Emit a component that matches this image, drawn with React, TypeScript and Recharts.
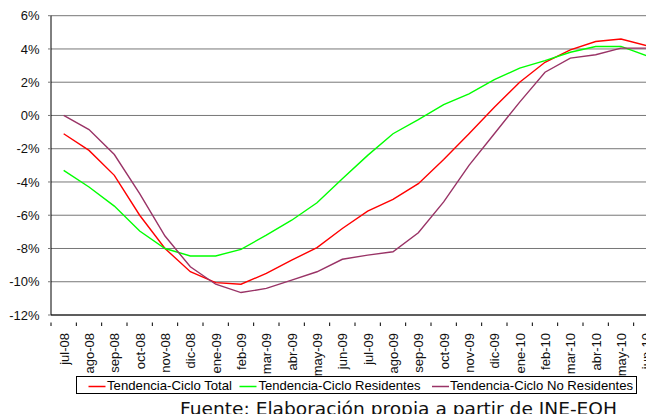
import { LineChart, Line, XAxis, YAxis, CartesianGrid } from "recharts";

const months = [
  "jul-08", "ago-08", "sep-08", "oct-08", "nov-08", "dic-08",
  "ene-09", "feb-09", "mar-09", "abr-09", "may-09", "jun-09",
  "jul-09", "ago-09", "sep-09", "oct-09", "nov-09", "dic-09",
  "ene-10", "feb-10", "mar-10", "abr-10", "may-10", "jun-10",
];

const total = [
  -1.1, -2.1, -3.6, -6.0, -8.0, -9.4, -10.05, -10.15, -9.5, -8.7, -7.95, -6.8,
  -5.75, -5.05, -4.1, -2.65, -1.1, 0.5, 2.0, 3.2, 3.95, 4.45, 4.6, 4.2,
];

const residentes = [
  -3.3, -4.3, -5.45, -6.95, -8.0, -8.45, -8.45, -8.05, -7.2, -6.3, -5.25, -3.8,
  -2.4, -1.1, -0.25, 0.65, 1.3, 2.15, 2.85, 3.3, 3.8, 4.15, 4.15, 3.6,
];

const noResidentes = [
  0, -0.85, -2.35, -4.7, -7.25, -9.1, -10.15, -10.65, -10.4, -9.9, -9.4, -8.65,
  -8.4, -8.2, -7.05, -5.2, -3.0, -1.1, 0.8, 2.6, 3.45, 3.65, 4.05, 4.05,
];

const yTicks = [-12, -10, -8, -6, -4, -2, 0, 2, 4, 6];

const series = [
  { key: "total", name: "Tendencia-Ciclo Total", color: "#ff0000" },
  { key: "residentes", name: "Tendencia-Ciclo Residentes", color: "#00ff00" },
  { key: "noResidentes", name: "Tendencia-Ciclo No Residentes", color: "#993366" },
];

const data = months.map((m, i) => ({
  month: m,
  total: total[i],
  residentes: residentes[i],
  noResidentes: noResidentes[i],
}));

const CHART_W = 700;
const CHART_H = 414;
const Y_AXIS_W = 51;
const MARGIN = { top: 15.7, right: 41, bottom: 0, left: 0 };
const BAND = (CHART_W - Y_AXIS_W - MARGIN.right) / months.length;

const font = "'Liberation Sans', Arial, sans-serif";

function MonthTick(props: any) {
  const { x, y, payload } = props;
  const left = x - BAND / 2;
  return (
    <g>
      <line x1={left} y1={y - 0.5} x2={left} y2={y + 3} stroke="#000" strokeWidth={1} />
      <text
        transform={`translate(${x + 0.5},${y + 10}) rotate(-90)`}
        textAnchor="end"
        dominantBaseline="central"
        fontFamily={font}
        fontSize={13}
        fill="#111"
      >
        {payload.value}
      </text>
    </g>
  );
}

// legend layout (relative to the box)
const legendItems = [
  { lineX: 11.5, textX: 30, textW: 125 },
  { lineX: 162.5, textX: 181.5, textW: 162 },
  { lineX: 355, textX: 373, textW: 183 },
];

function LegendBox() {
  return (
    <div
      style={{
        position: "absolute",
        left: 75.5,
        top: 376,
        width: 559,
        height: 15.5,
        border: "1px solid #000",
        background: "#fff",
      }}
    >
      <svg width={559} height={16} style={{ position: "absolute", left: 0, top: 0 }}>
        {series.map((s, i) => (
          <g key={s.key}>
            <line
              x1={legendItems[i].lineX}
              x2={legendItems[i].lineX + 17}
              y1={9.5}
              y2={9.5}
              stroke={s.color}
              strokeWidth={1.5}
            />
            <text
              x={legendItems[i].textX}
              y={13}
              fontFamily={font}
              fontSize={13.5}
              fill="#000"
              textLength={legendItems[i].textW}
              lengthAdjust="spacingAndGlyphs"
            >
              {s.name}
            </text>
          </g>
        ))}
      </svg>
    </div>
  );
}

export default function App() {
  return (
    <div
      style={{
        position: "fixed",
        left: 0,
        top: 0,
        width: 646,
        height: 414,
        overflow: "hidden",
        background: "#fff",
      }}
    >
      <LineChart width={CHART_W} height={CHART_H} data={data} margin={MARGIN}>
        <CartesianGrid vertical={false} stroke="#777" strokeWidth={1} />
        <XAxis
          dataKey="month"
          interval={0}
          height={99}
          padding={{ left: BAND / 2, right: BAND / 2 }}
          axisLine={{ stroke: "#000", strokeWidth: 1 }}
          tickLine={false}
          tick={<MonthTick />}
        />
        <YAxis
          width={Y_AXIS_W}
          domain={[-12, 6]}
          ticks={yTicks}
          interval={0}
          tickFormatter={(v: number) => `${v}%`}
          axisLine={{ stroke: "#000", strokeWidth: 1 }}
          tickLine={{ stroke: "#777" }}
          tickSize={3}
          tickMargin={8.5}
          tick={{ fontFamily: font, fontSize: 13, fill: "#111" }}
        />
        {series.map((s) => (
          <Line
            key={s.key}
            type="linear"
            dataKey={s.key}
            name={s.name}
            stroke={s.color}
            strokeWidth={1.4}
            dot={false}
            activeDot={false}
            isAnimationActive={false}
          />
        ))}
      </LineChart>
      <LegendBox />
      <svg width={646} height={414} style={{ position: "absolute", left: 0, top: 0, pointerEvents: "none" }}>
        <text
          x={180}
          y={414.8}
          fontFamily="'DejaVu Sans', Verdana, sans-serif"
          fontSize={18.5}
          fill="#111"
          textLength={437}
          lengthAdjust="spacingAndGlyphs"
        >
          Fuente: Elaboración propia a partir de INE-EOH
        </text>
      </svg>
    </div>
  );
}
